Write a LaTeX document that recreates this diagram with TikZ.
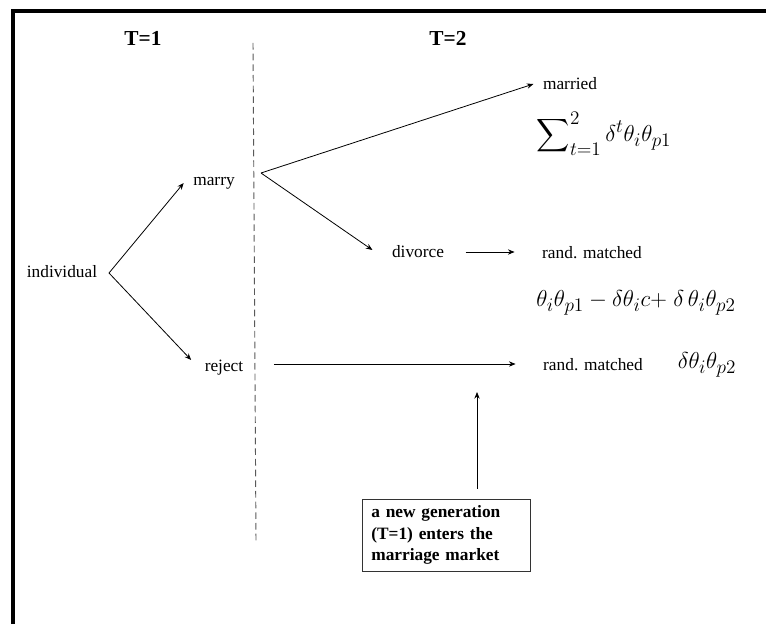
\documentclass[tikz,border=0pt]{standalone}
\usepackage{amsmath}
\usepackage{fontspec}
\setmainfont{Liberation Serif}
\newfontfamily\tnr{Liberation Serif}
\usetikzlibrary{arrows.meta,positioning}

\begin{document}
\begin{tikzpicture}[x=0.75pt, y=-0.75pt,
        lbl/.style={font=\tnr\fontsize{13}{15}\selectfont, inner sep=1pt},
        head/.style={font=\tnr\fontsize{16}{18}\selectfont\bfseries},
        pay/.style={font=\fontsize{19}{22}\selectfont, inner sep=1pt},
        arr/.style={-{Stealth[length=5pt,width=4pt]}, line width=0.6pt}
    ]
    \useasboundingbox (0,0) rectangle (766,624);
    % Frame
    \draw[line width=2.5pt] (13,624) -- (13,11) -- (766,11);
    % Periods
    \node[head] (t1) at (143,38) {T=1};
    \node[head] (t2) at (448,38) {T=2};
    \draw[gray!70!black, line width=0.7pt, dash pattern=on 5pt off 3pt] (253,43) -- (256,542);
    % Choices at T=1
    \node[lbl] (ind) at (62,272) {individual};
    \node[lbl] (marry) at (214,183) {marry};
    \node[lbl] (reject) at (224,368) {reject};
    \coordinate (split) at (109,273);
    \coordinate (fork) at (261,173);
    % Outcomes at T=2
    \node[lbl] (married) at (570,84) {married};
    \node[lbl] (divorce) at (418,252) {divorce};
    \node[lbl] (rm1) at (592,253) {rand. matched};
    \node[lbl] (rm2) at (593,365) {rand. matched};
    % Payoffs
    \node[pay] (p1) at (604,134) {$\displaystyle\sum\nolimits_{t=1}^{2}\delta^t\theta_i\theta_{p1}$};
    \node[pay] (p2) at (636,303) {$\theta_i\theta_{p1}-\delta\theta_i c{+}\;\delta\,\theta_i\theta_{p2}$};
    \node[pay] (p3) at (707,365) {$\delta\theta_i\theta_{p2}$};
    % New generation
    \node[draw=black!80, line width=0.6pt, align=left, text width=112pt, inner xsep=7pt, inner ysep=5pt,
        font=\tnr\fontsize{13}{16}\selectfont\bfseries] (gen) at (446,535)
        {a new generation\\(T=1) enters the\\marriage market};
    \coordinate (entry) at (477,392);
    % Arrows
    \draw[arr] (split) -- ([shift={(-8,0)}]marry.west);
    \draw[arr] (split) -- ([shift={(-12,-8)}]reject.west);
    \draw[arr] (fork) -- ([shift={(-8,0)}]married.west);
    \draw[arr] (fork) -- ([shift={(-18,-2)}]divorce.west);
    \draw[arr] ([shift={(20,0)}]divorce.east) -- ([shift={(-26,-1)}]rm1.west);
    \draw[arr] ([shift={(29,-4)}]reject.east) -- ([shift={(-26,-1)}]rm2.west);
    \draw[arr] ([shift={(31,-10)}]gen.north) -- (entry);
\end{tikzpicture}
\end{document}
